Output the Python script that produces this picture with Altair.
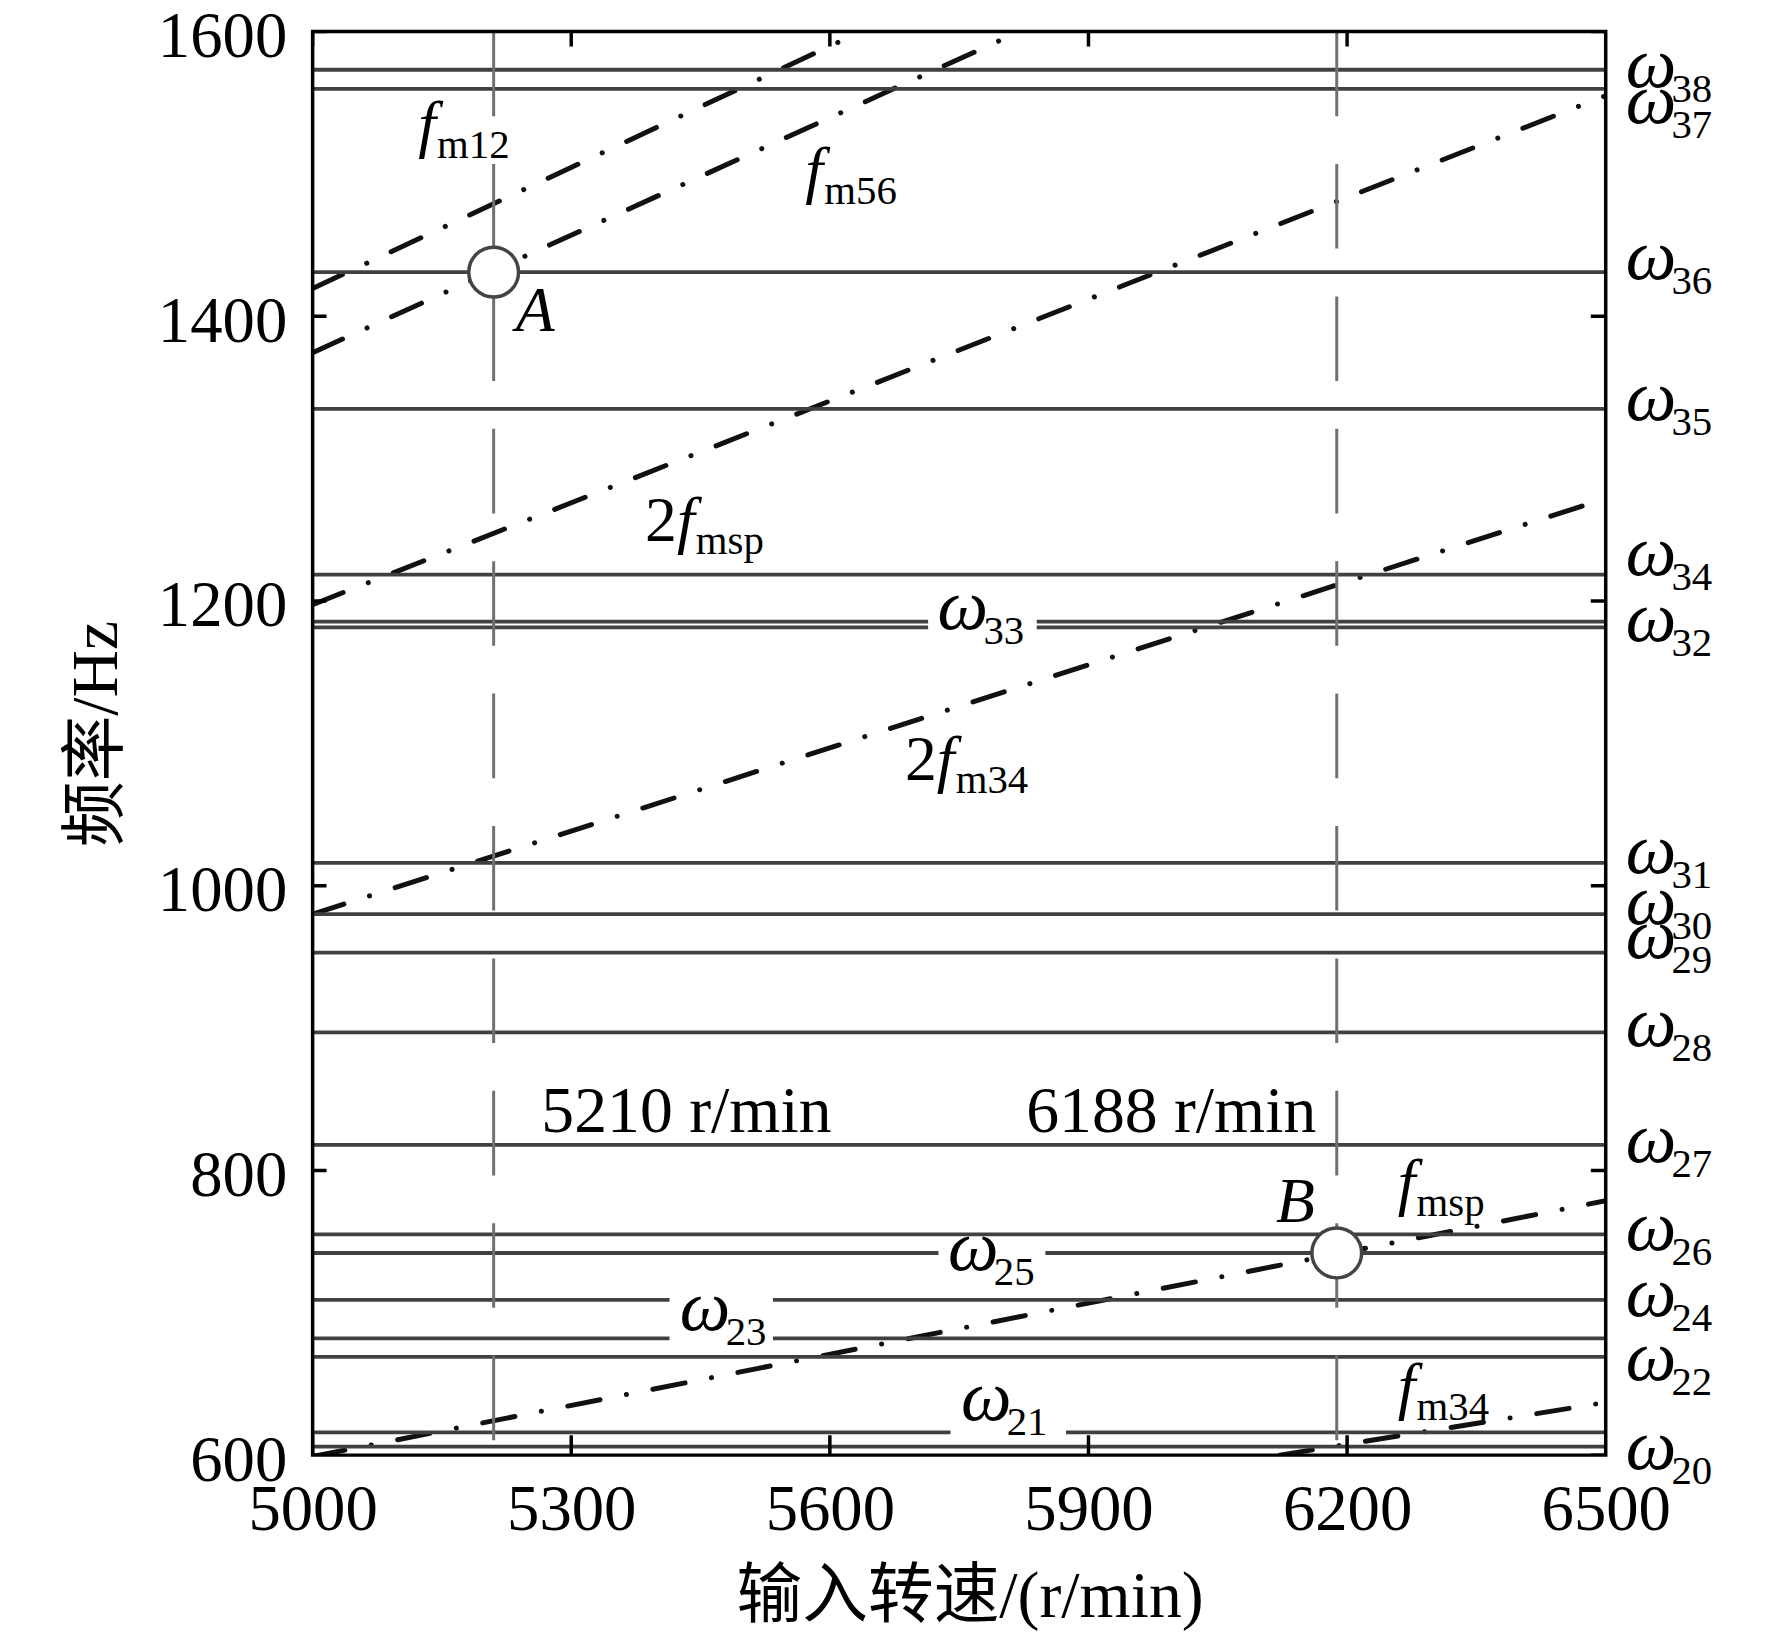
import altair as alt
import pandas as pd

# ---------------- data ----------------
x_ticks = [5000, 5300, 5600, 5900, 6200, 6500]
y_ticks = [600, 800, 1000, 1200, 1400, 1600]
x_range = [5000, 6500]
y_range = [600, 1600]

# natural frequencies (horizontal lines)
omega_ids = [20, 21, 22, 23, 24, 25, 26, 27, 28, 29, 30, 31, 32, 33, 34, 35, 36, 37, 38]
omega_hz = [606, 616, 669, 682, 709, 742, 755, 818, 897, 953, 980, 1016,
            1181.5, 1185.5, 1218.5, 1335, 1431, 1559.8, 1573.2]

# excitation (meshing) frequency lines: speed / frequency end points
fm12_speed, fm12_freq = [5000, 5636], [1419.5, 1600.0]
fm56_speed, fm56_freq = [5000, 5820], [1374.5, 1600.0]
f2msp_speed, f2msp_freq = [5000, 6500], [1197.5, 1555.0]
f2m34_speed, f2m34_freq = [5000, 6500], [980.0, 1272.0]
fmsp_speed, fmsp_freq = [5000, 6500], [599.0, 778.7]
fm34_speed, fm34_freq = [6122, 6500], [600.0, 637.0]

# critical speeds and resonance points
crit_speed = [5210, 6188]
crit_text = ["5210 r/min", "6188 r/min"]
point_name = ["A", "B"]
point_speed = [5210, 6188]
point_freq = [1431, 742]

# ---------------- annotation anchors (data units) ----------------
crit_text_n = [5433.6, 5996]
crit_text_v = [827.3, 827.3]
point_text_n = [5235.6, 6117.6]
point_text_v = [1390, 764]

inline_sub = ["33", "25", "23", "21"]
inline_n = [5725, 5737, 5426, 5752]
inline_v = [1180.4, 730, 688, 624.5]
gap_n0 = [5714, 5726, 5414, 5740]
gap_n1 = [5840, 5850, 5534, 5874]
gap_v0 = [1178, 736, 675, 611]
gap_v1 = [1189.5, 750, 716, 622]

right_sub = ["38", "37", "36", "35", "34", "32", "31", "30", "29", "28", "27", "26", "24", "22", "20"]
right_v = [1561.3, 1535.7, 1426, 1327, 1218, 1172, 1009, 973, 949, 887.5, 806, 744, 698, 653, 590]

f_sub = ["m12", "m56", "msp", "m34", "msp", "m34"]
f_two = [False, False, True, True, False, False]
f_n = [5122.4, 5571.6, 5422.6, 5724, 6258.7, 6258.7]
f_v = [1520.3, 1488, 1242, 1074, 777, 633.6]

# ---------------- tables ----------------
df_omega = pd.DataFrame({"id": omega_ids, "hz": omega_hz})
exc_rows = []
for name, sp, fr in [("fm12", fm12_speed, fm12_freq), ("fm56", fm56_speed, fm56_freq),
                     ("2fmsp", f2msp_speed, f2msp_freq), ("2fm34", f2m34_speed, f2m34_freq),
                     ("fmsp", fmsp_speed, fmsp_freq), ("fm34", fm34_speed, fm34_freq)]:
    for s, f in zip(sp, fr):
        exc_rows.append({"series": name, "n": s, "f": f})
df_exc = pd.DataFrame(exc_rows)
df_crit = pd.DataFrame({"n": crit_speed, "top": y_range[1], "bot": y_range[0]})
df_crit_text = pd.DataFrame({"t": crit_text, "n": crit_text_n, "v": crit_text_v})
df_pts = pd.DataFrame({"name": point_name, "n": point_speed, "f": point_freq})
df_pts_text = pd.DataFrame({"name": point_name, "n": point_text_n, "v": point_text_v})
df_inline = pd.DataFrame({"sub": inline_sub, "n": inline_n, "v": inline_v})
df_gap = pd.DataFrame({"n0": gap_n0, "n1": gap_n1, "v0": gap_v0, "v1": gap_v1})
df_right = pd.DataFrame({"sub": right_sub, "v": right_v, "n": x_range[1]})
df_f = pd.DataFrame({"sub": f_sub, "two": f_two, "n": f_n, "v": f_v})
df_two = df_f[df_f["two"]].reset_index(drop=True)
df_xt_bot = pd.DataFrame({"t": x_ticks, "edge": y_range[0]})
df_xt_top = pd.DataFrame({"t": x_ticks, "edge": y_range[1]})
df_yt_left = pd.DataFrame({"t": y_ticks, "edge": x_range[0]})
df_yt_right = pd.DataFrame({"t": y_ticks, "edge": x_range[1]})
df_frame = pd.DataFrame({"n0": [x_range[0]], "n1": [x_range[1]],
                         "v0": [y_range[0]], "v1": [y_range[1]]})

# ---------------- style ----------------
FONT = "Liberation Serif"
CJK = "Liberation Serif, Noto Sans CJK SC"
W, H = 1299, 1430
xs = alt.Scale(domain=x_range, nice=False, zero=False)
ys = alt.Scale(domain=y_range, nice=False, zero=False)

x_axis = alt.Axis(values=x_ticks, title="输入转速/(r/min)", format="d",
                  labelFont=FONT, labelFontSize=65, labelColor="black",
                  labelPadding=75, labelBaseline="alphabetic",
                  ticks=False, tickSize=0, domain=False, grid=False,
                  labelFlush=False, labelOverlap=False,
                  titleFont=CJK, titleFontSize=66, titleFontWeight="normal",
                  titleColor="black", titleY=162, titleX=660,
                  titleBaseline="alphabetic")
y_axis = alt.Axis(values=y_ticks, title="频率/Hz", format="d",
                  labelFont=FONT, labelFontSize=65, labelColor="black",
                  labelPadding=26, labelBaseline="alphabetic", labelOffset=25,
                  ticks=False, tickSize=0, domain=False, grid=False,
                  labelFlush=False, labelOverlap=False,
                  titleFont=CJK, titleFontSize=66, titleFontWeight="normal",
                  titleColor="black", titleX=-197, titleY=705, titleAngle=270,
                  titleBaseline="alphabetic", titleAlign="center")


def X(f):
    return alt.X(f, scale=xs, axis=x_axis, title="输入转速/(r/min)")


def Y(f):
    return alt.Y(f, scale=ys, axis=y_axis, title="频率/Hz")


hlines = alt.Chart(df_omega).mark_rule(color="#404040", strokeWidth=3.8).encode(
    y=Y("hz:Q"))

vlines = alt.Chart(df_crit).mark_rule(color="#707070", strokeWidth=3,
                                      strokeDash=[85, 48]).encode(
    x=X("n:Q"), y=Y("top:Q"), y2="bot:Q")

gaps = alt.Chart(df_gap).mark_rect(color="white").encode(
    x=X("n0:Q"), x2="n1:Q", y=Y("v0:Q"), y2="v1:Q")

exc = alt.Chart(df_exc).mark_line(color="#111111", strokeWidth=5, clip=True,
                                  strokeDash=[33, 27, 0.1, 27], strokeCap="round").encode(
    x=X("n:Q"), y=Y("f:Q"), detail="series:N")

circles = alt.Chart(df_pts).mark_point(shape="circle", size=2500, filled=True,
                                       fill="white", stroke="#444444",
                                       strokeWidth=3.5, opacity=1).encode(
    x=X("n:Q"), y=Y("f:Q"))

txt = dict(font=FONT, color="black", align="left", baseline="alphabetic")
OM = 72
SUB = 41

om_in_main = alt.Chart(df_inline).mark_text(fontSize=OM, fontStyle="italic", **txt).encode(
    x=X("n:Q"), y=Y("v:Q"), text=alt.value("ω"))
om_in_sub = alt.Chart(df_inline).mark_text(fontSize=SUB, dx=46, dy=15, **txt).encode(
    x=X("n:Q"), y=Y("v:Q"), text="sub:N")
om_r_main = alt.Chart(df_right).mark_text(fontSize=OM, fontStyle="italic", dx=20, **txt).encode(
    x=X("n:Q"), y=Y("v:Q"), text=alt.value("ω"))
om_r_sub = alt.Chart(df_right).mark_text(fontSize=SUB, dx=66, dy=15, **txt).encode(
    x=X("n:Q"), y=Y("v:Q"), text="sub:N")

f_main = alt.Chart(df_f).mark_text(fontSize=64, fontStyle="italic", **txt).encode(
    x=X("n:Q"), y=Y("v:Q"), text=alt.value("f"))
f_two_txt = alt.Chart(df_two).mark_text(fontSize=64, dx=-32, **txt).encode(
    x=X("n:Q"), y=Y("v:Q"), text=alt.value("2"))
f_subs = alt.Chart(df_f).mark_text(fontSize=SUB, dx=19, dy=13, **txt).encode(
    x=X("n:Q"), y=Y("v:Q"), text="sub:N")

pt_txt = alt.Chart(df_pts_text).mark_text(fontSize=64, fontStyle="italic", **txt).encode(
    x=X("n:Q"), y=Y("v:Q"), text="name:N")

crit_txt = alt.Chart(df_crit_text).mark_text(fontSize=66, font=FONT, color="black",
                                             align="center", baseline="alphabetic").encode(
    x=X("n:Q"), y=Y("v:Q"), text="t:N")

tick_style = dict(color="black", thickness=3.5, clip=True, opacity=1)
t_bottom = alt.Chart(df_xt_bot).mark_tick(orient="vertical", size=40, **tick_style).encode(
    x=X("t:Q"), y=Y("edge:Q"))
t_top = alt.Chart(df_xt_top).mark_tick(orient="vertical", size=30, **tick_style).encode(
    x=X("t:Q"), y=Y("edge:Q"))
t_left = alt.Chart(df_yt_left).mark_tick(orient="horizontal", size=28, **tick_style).encode(
    y=Y("t:Q"), x=X("edge:Q"))
t_right = alt.Chart(df_yt_right).mark_tick(orient="horizontal", size=30, **tick_style).encode(
    y=Y("t:Q"), x=X("edge:Q"))

frame = alt.Chart(df_frame).mark_rect(filled=False, stroke="black", strokeWidth=3.5).encode(
    x=X("n0:Q"), x2="n1:Q", y=Y("v0:Q"), y2="v1:Q")

chart = alt.layer(
    exc, hlines, vlines, gaps, circles,
    om_in_main, om_in_sub, om_r_main, om_r_sub,
    f_main, f_two_txt, f_subs, pt_txt, crit_txt,
    t_bottom, t_top, t_left, t_right, frame,
).properties(
    width=W, height=H,
    autosize=alt.AutoSizeParams(type="none"),
    padding={"left": 306, "top": 20, "right": 159, "bottom": 183},
).configure_view(strokeWidth=0).configure(background="white")

chart.save("out.html", embed_options={"renderer": "svg", "actions": False})
